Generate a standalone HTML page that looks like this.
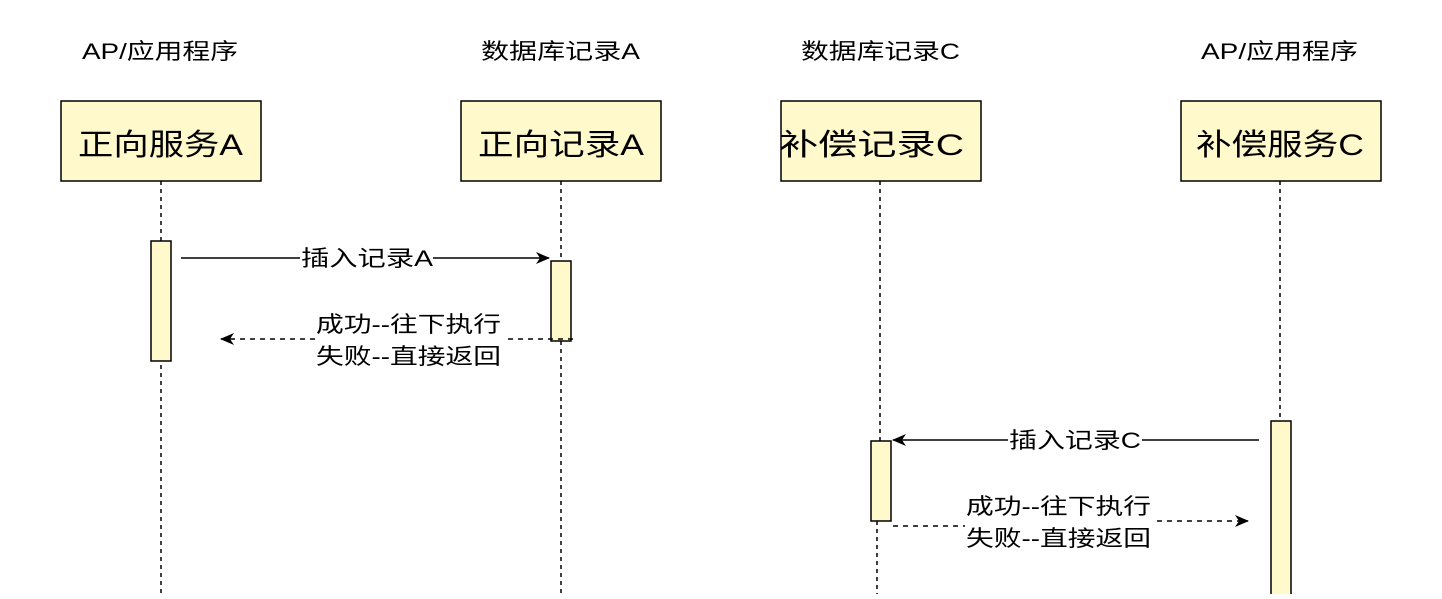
<!DOCTYPE html>
<html><head><meta charset="utf-8"><style>
body{margin:0;background:#fff}
text{font-family:"Liberation Sans","Noto Sans CJK SC",sans-serif;fill:#000}
</style></head><body>
<svg width="1442" height="594" xmlns="http://www.w3.org/2000/svg">
<defs>
<marker id="a" markerWidth="14" markerHeight="12" refX="13" refY="6" orient="auto" markerUnits="userSpaceOnUse">
<path d="M0,0 L14,6 L0,12 L4,6 Z" fill="#000"/></marker>
</defs>
<g font-size="22" lengthAdjust="spacingAndGlyphs">
<text x="82" y="59" textLength="156" lengthAdjust="spacingAndGlyphs">AP/应用程序</text>
<text x="481" y="59" textLength="159" lengthAdjust="spacingAndGlyphs">数据库记录A</text>
<text x="801" y="59" textLength="159" lengthAdjust="spacingAndGlyphs">数据库记录C</text>
<text x="1201" y="59" textLength="157" lengthAdjust="spacingAndGlyphs">AP/应用程序</text>
</g>
<g stroke="#000" stroke-width="1.5" stroke-dasharray="4,4" fill="none">
<line x1="161" y1="181" x2="161" y2="594"/>
<line x1="561" y1="181" x2="561" y2="594"/>
<line x1="880" y1="181" x2="880" y2="441"/>
<line x1="877" y1="521" x2="877" y2="594"/>
<line x1="1280" y1="181" x2="1280" y2="421"/>
</g>
<g fill="#fff9cc" stroke="#000" stroke-width="1.5">
<rect x="61" y="101" width="200" height="80"/>
<rect x="461" y="101" width="200" height="80"/>
<rect x="781" y="101" width="200" height="80"/>
<rect x="1181" y="101" width="200" height="80"/>
<rect x="151" y="241" width="20" height="120"/>
<rect x="551" y="261" width="20" height="80"/>
<rect x="871" y="441" width="20" height="80"/>
<rect x="1271" y="421" width="20" height="180"/>
</g>
<g font-size="30">
<text x="78" y="155" textLength="165" lengthAdjust="spacingAndGlyphs">正向服务A</text>
<text x="478" y="155" textLength="166" lengthAdjust="spacingAndGlyphs">正向记录A</text>
<text x="779" y="155" textLength="185" lengthAdjust="spacingAndGlyphs">补偿记录C</text>
<text x="1196" y="155" textLength="168" lengthAdjust="spacingAndGlyphs">补偿服务C</text>
</g>
<g stroke="#000" stroke-width="1.5" fill="none">
<line x1="181" y1="258" x2="300" y2="258"/>
<line x1="433" y1="258" x2="549" y2="258" marker-end="url(#a)"/>
<line x1="1259" y1="440" x2="1142" y2="440"/>
<line x1="1008" y1="440" x2="893" y2="440" marker-end="url(#a)"/>
<g stroke-dasharray="5,5">
<line x1="573" y1="339" x2="315" y2="339"/>
<line x1="315" y1="339" x2="221" y2="339" marker-end="url(#a)"/>
<line x1="893" y1="526" x2="965" y2="526"/>
<line x1="1157" y1="521" x2="1248" y2="521" marker-end="url(#a)"/>
</g>
</g>
<rect x="315" y="305" width="188" height="66" fill="#fff"/>
<rect x="965" y="490" width="192" height="66" fill="#fff"/>
<g font-size="22">
<text x="301" y="266" textLength="132" lengthAdjust="spacingAndGlyphs">插入记录A</text>
<text x="1009" y="448" textLength="132" lengthAdjust="spacingAndGlyphs">插入记录C</text>
<text x="316" y="332" textLength="185" lengthAdjust="spacingAndGlyphs">成功--往下执行</text>
<text x="316" y="364" textLength="185" lengthAdjust="spacingAndGlyphs">失败--直接返回</text>
<text x="966" y="514" textLength="185" lengthAdjust="spacingAndGlyphs">成功--往下执行</text>
<text x="966" y="546" textLength="185" lengthAdjust="spacingAndGlyphs">失败--直接返回</text>
</g>
</svg>
</body></html>
